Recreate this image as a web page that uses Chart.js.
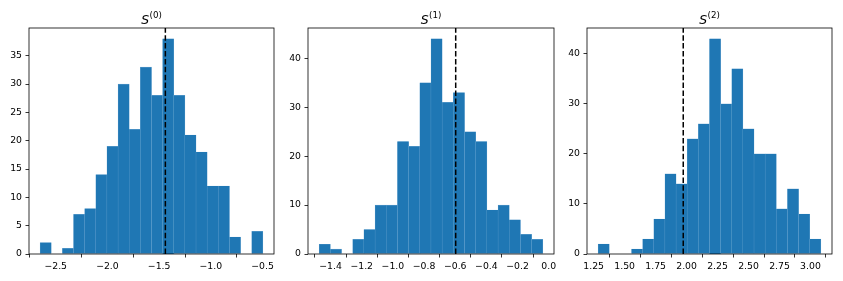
<!DOCTYPE html>
<html><head><meta charset="utf-8">
<script src="https://cdn.jsdelivr.net/npm/chart.js@4"></script>
<style>
html,body{margin:0;padding:0;background:#fff;}
#wrap{position:relative;width:843px;height:281px;overflow:hidden;background:#fff;}
canvas{position:absolute;left:0;top:0;}
.ttl{position:absolute;top:14px;text-align:center;font-family:'DejaVu Sans';font-size:12.5px;line-height:12px;color:#000;white-space:nowrap;}
.ttl i{font-style:oblique;}
.ttl span{font-size:8.7px;position:relative;top:-6.5px;margin-left:0.5px;}
</style></head>
<body>
<div id="wrap">
  <canvas id="c0" width="843" height="281"></canvas>
  <canvas id="c1" width="843" height="281"></canvas>
  <canvas id="c2" width="843" height="281"></canvas>
</div>
<script>
// ---- data ----
const titleSup = ['(0)', '(1)', '(2)'];
const counts0 = [2, 0, 1, 7, 8, 14, 19, 30, 22, 33, 28, 38, 28, 21, 18, 12, 12, 3, 0, 4];
const counts1 = [2, 1, 0, 3, 5, 10, 10, 23, 22, 35, 44, 31, 33, 25, 23, 9, 10, 7, 4, 3];
const counts2 = [2, 0, 0, 1, 3, 7, 16, 14, 23, 26, 43, 30, 37, 25, 20, 20, 9, 13, 8, 3];
const binLow = [-2.651, -1.473, 1.286];
const binHigh = [-0.497, -0.038, 3.084];
const refLine = [-1.44, -0.597, 1.973];
const xTicks0 = [-2.5, -2.0, -1.5, -1.0, -0.5];
const xTicks1 = [-1.4, -1.2, -1.0, -0.8, -0.6, -0.4, -0.2, 0.0];
const xTicks2 = [1.25, 1.5, 1.75, 2.0, 2.25, 2.5, 2.75, 3.0];
const yTicks0 = [0, 5, 10, 15, 20, 25, 30, 35];
const yTicks1 = [0, 10, 20, 30, 40];
const yTicks2 = [0, 10, 20, 30, 40];
const xDecimals = [1, 1, 2];

// ---- layout ----
const W = 843, H = 281;
const boxes = [{l: 29, r: 274}, {l: 308, r: 554}, {l: 587, r: 832}];
const TOP = 28, BOTTOM = 254;
const FONT = {family: "'DejaVu Sans', sans-serif", size: 9.3};

const allCounts = [counts0, counts1, counts2];
const allX = [xTicks0, xTicks1, xTicks2];
const allY = [yTicks0, yTicks1, yTicks2];

function fmt(v, d) {
  const s = Math.abs(v).toFixed(d);
  return (v < -1e-9 ? '\u2212' : '') + s;
}

const framePlugin = {
  id: 'frame',
  afterDraw(chart) {
    const a = chart.chartArea, ctx = chart.ctx;
    ctx.save();
    ctx.strokeStyle = '#000';
    ctx.lineWidth = 0.8;
    ctx.strokeRect(a.left, a.top, a.right - a.left, a.bottom - a.top);
    ctx.restore();
  }
};

const wrap = document.getElementById('wrap');

for (let p = 0; p < 3; p++) {
  const counts = allCounts[p];
  const lo = binLow[p], hi = binHigh[p];
  const bw = (hi - lo) / counts.length;
  const bins = counts.map((c, i) => ({x: lo + (i + 0.5) * bw, y: c}));
  const span = hi - lo;
  const xmin = lo - 0.05 * span, xmax = hi + 0.05 * span;
  const ymax = Math.max(...counts) * 1.05;
  const b = boxes[p];
  const xt = allX[p], yt = allY[p], dec = xDecimals[p];

  const t = document.createElement('div');
  t.className = 'ttl';
  t.style.left = b.l + 'px';
  t.style.width = (b.r - b.l) + 'px';
  t.innerHTML = '<i>S</i><span>' + titleSup[p] + '</span>';
  wrap.appendChild(t);

  new Chart(document.getElementById('c' + p), {
    type: 'bar',
    data: {
      datasets: [
        {
          type: 'line',
          data: [{x: refLine[p], y: 0}, {x: refLine[p], y: ymax}],
          borderColor: '#000', borderWidth: 1.5, borderDash: [5.5, 2.4],
          pointRadius: 0, fill: false, order: 0
        },
        {
          type: 'bar',
          data: bins,
          backgroundColor: '#1f77b4',
          borderColor: '#6fa8d3',
          borderWidth: 0.4,
          barPercentage: 1, categoryPercentage: 1,
          order: 1
        }
      ]
    },
    options: {
      responsive: false, animation: false, events: [],
      plugins: {legend: {display: false}, tooltip: {enabled: false}, title: {display: false}},
      layout: {padding: {left: b.l - 28, right: W - b.r, top: TOP, bottom: 0}},
      scales: {
        x: {
          type: 'linear', min: xmin, max: xmax, offset: false,
          grid: {display: true, drawOnChartArea: false, drawTicks: true, tickLength: 3.5, color: '#000', lineWidth: 0.8},
          border: {display: false},
          ticks: {padding: 3.5, color: '#000', font: FONT, maxRotation: 0, autoSkip: false,
                  callback: (v) => fmt(v, dec)},
          afterBuildTicks: (s) => { s.ticks = xt.map(v => ({value: v})); },
          afterFit: (s) => { s.height = H - BOTTOM; s.paddingLeft = 0; s.paddingRight = 0; }
        },
        y: {
          type: 'linear', min: 0, max: ymax,
          grid: {display: true, drawOnChartArea: false, drawTicks: true, tickLength: 3.5, color: '#000', lineWidth: 0.8},
          border: {display: false},
          ticks: {padding: 3.5, color: '#000', font: FONT, autoSkip: false,
                  callback: (v) => String(v)},
          afterBuildTicks: (s) => { s.ticks = yt.map(v => ({value: v})); },
          afterFit: (s) => { s.width = 28; s.paddingTop = 0; s.paddingBottom = 0; }
        }
      }
    },
    plugins: [framePlugin]
  });
}
</script>
</body></html>
